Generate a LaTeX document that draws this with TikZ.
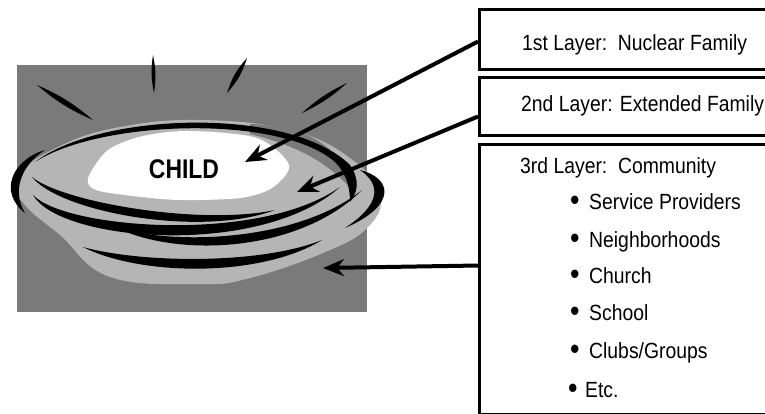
\documentclass[tikz,border=0pt]{standalone}
\usepackage{fontspec}
\setmainfont{Liberation Sans}
\newfontfamily\childfont[FakeStretch=0.85]{Liberation Sans}
\newfontfamily\layerfont[FakeStretch=0.88]{Liberation Sans}
\usetikzlibrary{arrows.meta}
\definecolor{nestdark}{HTML}{7A7A7A}
\definecolor{nestlight}{HTML}{B5B5B5}
\newcommand{\layerbullet}{\raisebox{-1.5bp}{\scalebox{1.4}{\textbullet}}}
\tikzset{
  layerbox/.style={draw, line width=3bp, minimum width=340bp, anchor=north west, inner sep=0pt},
  layertext/.style={anchor=base west, inner sep=0pt, font=\layerfont\fontsize{22bp}{25bp}\selectfont},
  pointer/.style={line width=4bp, -{Stealth[length=21bp,width=17bp]}},
}

\begin{document}
\begin{tikzpicture}[x=1bp,y=-1bp]

    % Размер страницы
    \clip (0,0) rectangle (765,413);
    \fill[white] (0,0) rectangle (765,413);

    % Серый фон картинки
    \fill[nestdark] (17,65) rectangle (367,312);

    % Лучи над гнездом
    \fill (37,85) to[bend left=8] (93,120) to[bend left=8] (37,85) -- cycle;
    \fill (153,55) to[bend left=10] (154,93) to[bend left=10] (153,55) -- cycle;
    \fill (247,58) to[bend left=12] (227,93) to[bend left=12] (247,58) -- cycle;
    \fill (347,83) to[bend left=8] (302,113) to[bend left=8] (347,83) -- cycle;

    % Светлое гнездо и белый центр
    \fill[nestlight] plot[smooth cycle, tension=0.7] coordinates {(14,178) (60,146) (120,127) (200,120) (290,130) (350,158) (380,195) (367,228) (323,253) (250,278) (200,284) (110,277) (60,235) (25,205)};
    \fill[nestdark] (250,124) .. controls (310,126) and (345,150) .. (350,188) .. controls (330,165) and (300,146) .. (250,134) -- cycle;
    \fill[white] plot[smooth cycle] coordinates {(88,178) (108,150) (143,136) (190,131) (257,138) (289,165) (272,188) (240,198) (180,200) (133,196) (96,190)};
    \node[anchor=base, inner sep=0pt, font=\childfont\bfseries\fontsize{27bp}{30bp}\selectfont] (child) at (184,178) {CHILD};

    % Чёрный обод
    \fill (35,162) .. controls (100,112) and (290,106) .. (350,165) .. controls (360,180) and (358,192) .. (350,202) .. controls (350,185) and (345,172) .. (335,162) .. controls (280,114) and (100,120) .. (35,162) -- cycle;
    \fill (45,150) .. controls (12,160) and (-2,192) .. (25,213) .. controls (12,192) and (20,166) .. (45,150) -- cycle;
    \fill (360,170) .. controls (392,178) and (398,205) .. (345,228) .. controls (380,205) and (382,185) .. (360,170) -- cycle;

    % Слои гнезда
    \fill (32,177) .. controls (60,212) and (200,238) .. (275,210) .. controls (200,226) and (62,202) .. (32,177) -- cycle;
    \fill (33,195) .. controls (60,242) and (260,258) .. (340,187) .. controls (260,244) and (65,229) .. (33,195) -- cycle;
    \fill (117,228) .. controls (180,258) and (300,252) .. (362,190) .. controls (300,240) and (180,246) .. (117,228) -- cycle;
    \fill (83,247) .. controls (140,276) and (260,278) .. (322,240) .. controls (260,265) and (140,263) .. (83,247) -- cycle;

    % Рамки слоёв
    \node[layerbox, minimum height=60bp] (l1) at (478,8) {};
    \node[layerbox, minimum height=58bp] (l2) at (478,76) {};
    \node[layerbox, minimum height=270bp] (l3) at (478,143) {};

    % Подписи слоёв
    \node[layertext] (t1) at (522,50) {1st Layer:\ \ Nuclear Family};
    \node[layertext] (t2) at (521,111) {2nd Layer: Extended Family};
    \node[layertext] (t3) at (520,173) {3rd Layer:\ \ Community};
    \node[layertext] (b1) at (570,209) {\layerbullet\hspace{9.5bp}Service Providers};
    \node[layertext] (b2) at (570,247) {\layerbullet\hspace{9.5bp}Neighborhoods};
    \node[layertext] (b3) at (570,283) {\layerbullet\hspace{9.5bp}Church};
    \node[layertext] (b4) at (570,320) {\layerbullet\hspace{9.5bp}School};
    \node[layertext] (b5) at (570,358) {\layerbullet\hspace{9.5bp}Clubs/Groups};
    \node[layertext] (b6) at (568,397) {\layerbullet\hspace{7.5bp}Etc.};

    % Стрелки к слоям
    \coordinate (p1) at (245,162); % белый центр
    \coordinate (p2) at (297,192); % светлое кольцо
    \coordinate (p3) at (323,268); % серый фон
    \draw[pointer] ([yshift=-2bp]l1.west) -- (p1);
    \draw[pointer] ([yshift=-10bp]l2.west) -- (p2);
    \draw[pointer] ([yshift=14bp]l3.west) -- (p3);

\end{tikzpicture}
\end{document}
